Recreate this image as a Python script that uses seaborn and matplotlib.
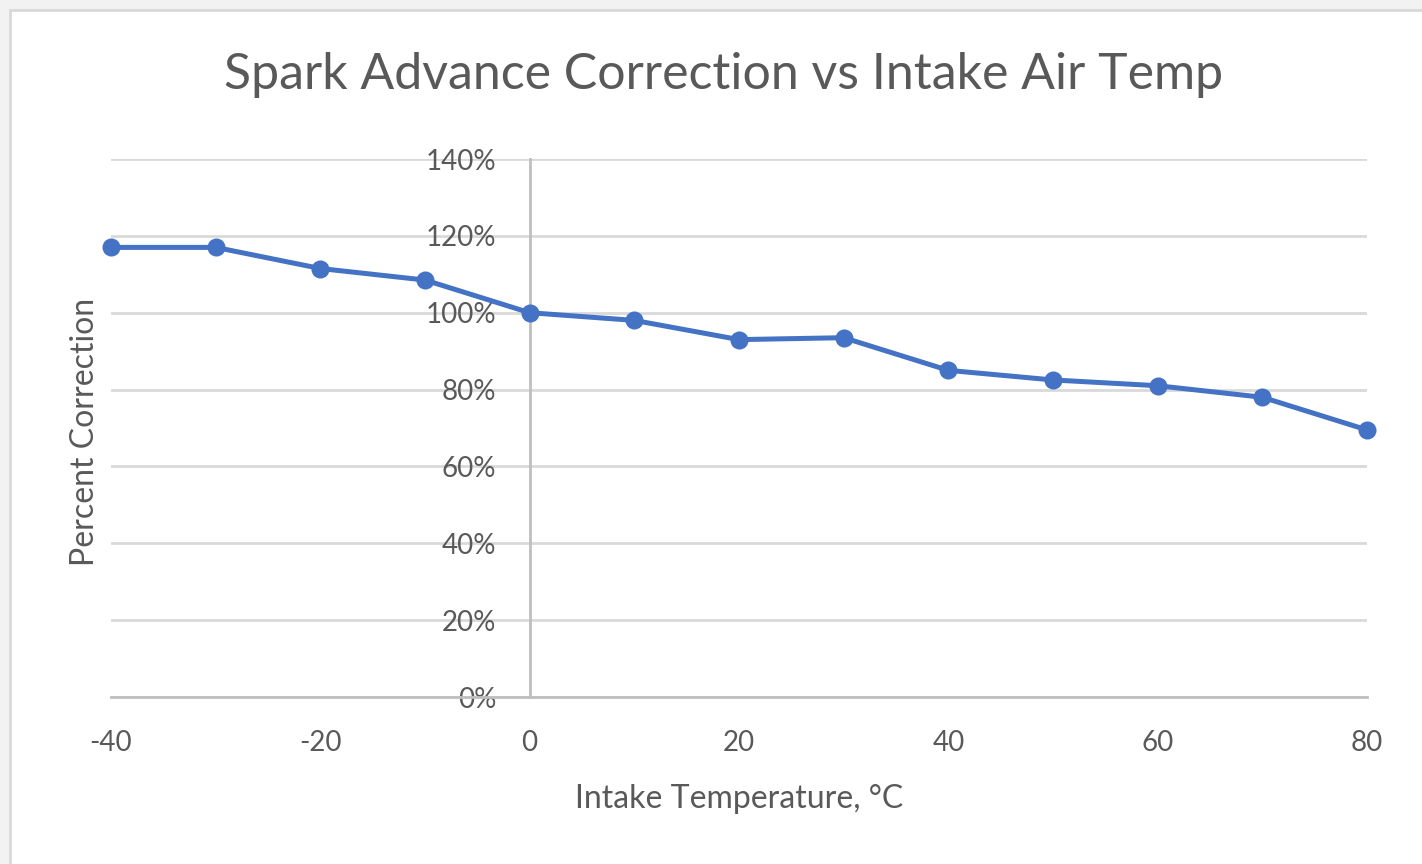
import pandas as pd
import matplotlib.pyplot as plt
import seaborn as sns
from matplotlib.patches import Rectangle
from matplotlib.ticker import PercentFormatter

# Data
temps = [-40, -30, -20, -10, 0, 10, 20, 30, 40, 50, 60, 70, 80]
correction = [117, 117, 111.5, 108.5, 100, 98, 93, 93.5, 85, 82.5, 81, 78, 69.5]
y_ticks = [0, 20, 40, 60, 80, 100, 120, 140]
x_ticks = [-40, -20, 0, 20, 40, 60, 80]

df = pd.DataFrame({"Temp": temps, "Correction": correction})

sns.set_style("white")
plt.rcParams["font.family"] = ["Lato", "DejaVu Sans"]
plt.rcParams["axes.unicode_minus"] = False

text_color = "#595959"
axis_color = "#bfbfbf"
grid_color = "#d9d9d9"
line_color = "#4472C4"

fig = plt.figure(figsize=(14.22, 8.64), dpi=100, facecolor="#f2f2f2")
# white chart panel with thin border
fig.patches.append(Rectangle((10 / 1422, -0.01), 1.02, 1 - 10 / 864 + 0.01,
                             transform=fig.transFigure, facecolor="white",
                             edgecolor=grid_color, linewidth=2, zorder=-1))

ax = fig.add_axes([111 / 1422, 1 - 697 / 864, (1367 - 111) / 1422, (697 - 159) / 864])
ax.set_facecolor("none")

sns.lineplot(data=df, x="Temp", y="Correction", ax=ax, color=line_color,
             linewidth=3.6, marker="o", markersize=13, markeredgewidth=0,
             clip_on=False, zorder=5)

ax.set_xlim(-40, 80)
ax.set_ylim(0, 140)
ax.set_xticks(x_ticks)
ax.set_yticks(y_ticks)
ax.yaxis.set_major_formatter(PercentFormatter(decimals=0))

ax.grid(axis="y", color=grid_color, linewidth=2)
ax.grid(axis="x", visible=False)
ax.set_axisbelow(True)

for side in ["top", "right"]:
    ax.spines[side].set_visible(False)
ax.spines["left"].set_position(("data", 0))
ax.spines["left"].set_color(axis_color)
ax.spines["left"].set_linewidth(2)
ax.spines["bottom"].set_color(axis_color)
ax.spines["bottom"].set_linewidth(2)

ax.tick_params(axis="both", colors=axis_color, labelcolor=text_color,
               labelsize=20, length=7, width=2, direction="out")
ax.tick_params(axis="y", pad=17)
ax.tick_params(axis="x", pad=17)

ax.set_xlabel("Intake Temperature, °C", fontsize=23, color=text_color, labelpad=20)
ax.set_ylabel("")
fig.text(85 / 1422, 1 - 432 / 864, "Percent Correction", rotation=90,
         fontsize=23, color=text_color, ha="center", va="center")

fig.text(724 / 1422, 1 - 75 / 864, "Spark Advance Correction vs Intake Air Temp",
         fontsize=36, color=text_color, ha="center", va="center")

fig.savefig("out.png", dpi=100, facecolor=fig.get_facecolor())
